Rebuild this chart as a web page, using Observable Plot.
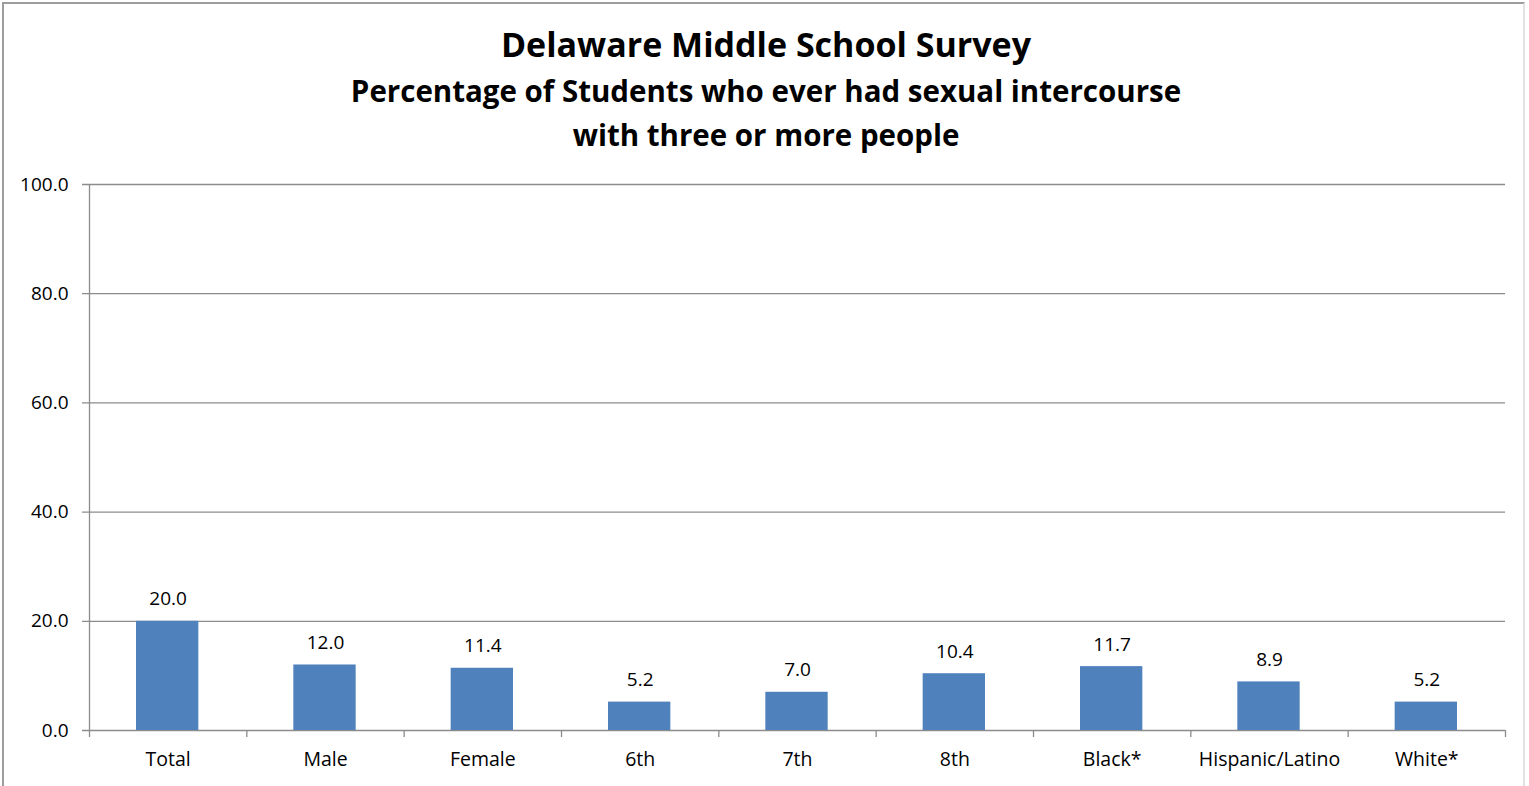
<!DOCTYPE html>
<html>
<head>
<meta charset="utf-8">
<script src="https://cdn.jsdelivr.net/npm/d3@7"></script>
<script src="https://cdn.jsdelivr.net/npm/@observablehq/plot@0.6"></script>
<style>
  html, body { margin: 0; padding: 0; background: #fff; width: 1529px; height: 786px; overflow: hidden; }
  #frame { position: absolute; left: 2px; top: 2px; width: 1523px; height: 800px; border: 2px solid #9d9d9d; border-right-color: #e2e2e2; box-sizing: border-box; }
  #titles { position: absolute; left: 0; top: 0; width: 1529px; text-align: center; font-family: "Open Sans", sans-serif; font-weight: bold; color: #000; }
  #t1 { position: absolute; left: 0; width: 1532px; top: 21px; font-size: 34px; line-height: 46px; }
  #t2 { position: absolute; left: 0; width: 1532px; top: 69px; font-size: 29.5px; line-height: 44px; }
  #chart { position: absolute; left: 0; top: 170px; }
  #chart svg text { font-family: "Open Sans", sans-serif; }
</style>
</head>
<body>
<div id="frame"></div>
<div id="titles">
  <div id="t1">Delaware Middle School Survey</div>
  <div id="t2">Percentage of Students who ever had sexual intercourse<br>with three or more people</div>
</div>
<div id="chart"></div>
<script>
const categories = ["Total", "Male", "Female", "6th", "7th", "8th", "Black*", "Hispanic/Latino", "White*"];
const values = [20.0, 12.0, 11.4, 5.2, 7.0, 10.4, 11.7, 8.9, 5.2];
const yTicks = [0, 20, 40, 60, 80, 100];

const data = categories.map((c, i) => ({category: c, index: i, value: values[i]}));
const gray = "#8c8c8c";

const plot = Plot.plot({
  width: 1529,
  height: 616,
  marginLeft: 89,
  marginRight: 24,
  marginTop: 14,
  marginBottom: 56,
  style: {fontSize: "19px", fontFamily: "Open Sans, sans-serif", color: "#000", background: "transparent"},
  x: {type: "linear", domain: [0, categories.length], axis: null},
  y: {domain: [0, 100], axis: null},
  marks: [
    Plot.ruleY(yTicks.filter(d => d > 0), {stroke: gray, strokeWidth: 1.3, insetLeft: -7}),
    Plot.axisY({ticks: yTicks, label: null, tickSize: 0, tickPadding: 21, tickFormat: d => d.toFixed(1), fontSize: 19, fill: "#000"}),
    Plot.ruleY([0], {stroke: gray, strokeWidth: 1.3, insetLeft: -7}),
    Plot.ruleX([0], {stroke: gray, strokeWidth: 1.3}),
    Plot.axisX({ticks: d3.range(categories.length + 1), label: null, tickSize: 7, tickFormat: () => "", stroke: gray, strokeWidth: 1.3}),
    Plot.rectY(data, {x1: "index", x2: d => d.index + 1, y: "value", fill: "#4f81bd", insetLeft: 47, insetRight: 48}),
    Plot.text(data, {x: d => d.index + 0.5, y: "value", text: d => d.value.toFixed(1), lineAnchor: "bottom", dy: -16, fontSize: 19, fill: "#000"}),
    Plot.text(data, {x: d => d.index + 0.5, y: 0, text: "category", lineAnchor: "middle", dy: 29, fontSize: 19.5, fill: "#000"})
  ]
});
document.getElementById("chart").appendChild(plot);
</script>
</body>
</html>
